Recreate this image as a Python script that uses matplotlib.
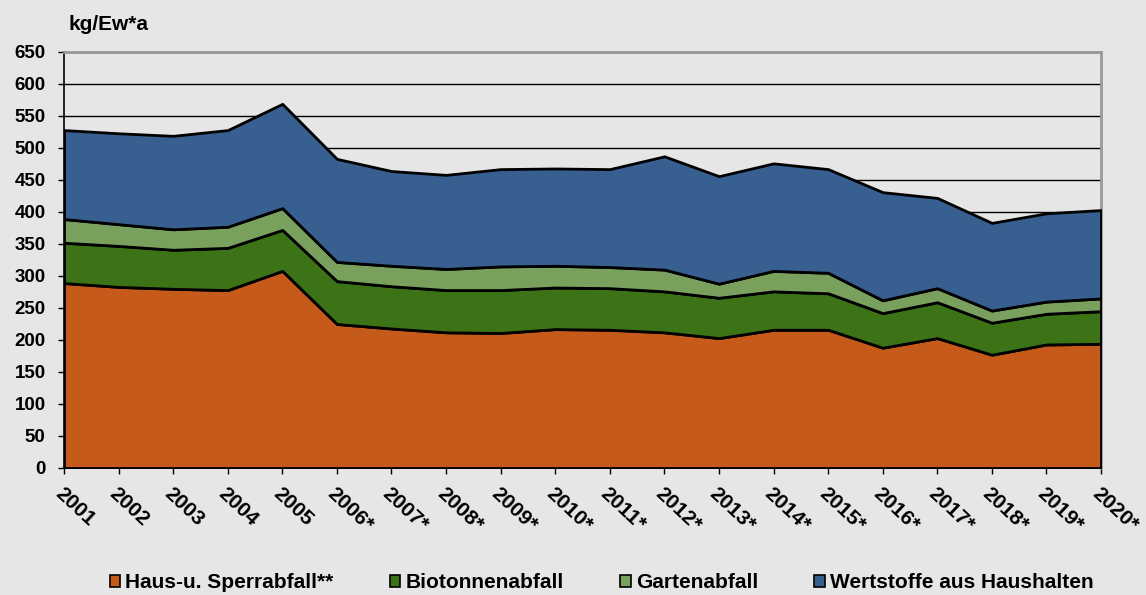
import matplotlib
matplotlib.use("Agg")
import matplotlib.pyplot as plt
from matplotlib.patches import Patch

years = list(range(2001, 2021))
tick_labels = ["2001", "2002", "2003", "2004", "2005", "2006*", "2007*", "2008*", "2009*", "2010*",
               "2011*", "2012*", "2013*", "2014*", "2015*", "2016*", "2017*", "2018*", "2019*", "2020*"]
haus = [289, 283, 280, 278, 308, 225, 218, 212, 211, 217, 216, 212, 203, 216, 216, 188, 203, 177, 193, 194]
bio = [63, 64, 61, 66, 64, 67, 66, 66, 67, 65, 65, 64, 63, 60, 57, 54, 56, 50, 48, 51]
garten = [37, 34, 32, 33, 34, 30, 32, 33, 37, 34, 33, 34, 22, 32, 32, 20, 22, 19, 19, 20]
wert = [139, 142, 146, 151, 163, 161, 148, 147, 152, 152, 153, 177, 168, 168, 162, 169, 141, 137, 138, 138]
series_names = ["Haus-u. Sperrabfall**", "Biotonnenabfall", "Gartenabfall", "Wertstoffe aus Haushalten"]
colors = ["#c55a1b", "#3d7317", "#7aa05e", "#376091"]

plt.rcParams['font.family'] = ['Liberation Sans', 'DejaVu Sans']
bg = "#e6e6e6"
fig = plt.figure(figsize=(11.46, 5.95), dpi=100, facecolor=bg)
ax = fig.add_axes([64/1146, 127/595, 1037/1146, 416/595])
ax.set_facecolor(bg)

ax.stackplot(years, haus, bio, garten, wert, colors=colors, edgecolor="black", linewidth=2.0, zorder=3)

ax.set_xlim(2001, 2020)
ax.set_ylim(0, 650)
ax.set_yticks(range(0, 651, 50))
ax.set_yticklabels([str(v) for v in range(0, 651, 50)], fontsize=13.5, fontweight="bold")
ax.set_xticks(years)
ax.set_xticklabels(tick_labels, fontsize=15, fontweight="bold", rotation=-43,
                   ha="left", va="top", rotation_mode="anchor")
ax.grid(axis="y", color="black", linewidth=1.0, zorder=1)
ax.set_axisbelow(True)
ax.tick_params(axis="both", direction="out", length=4.3, width=1, color="black")
ax.tick_params(axis="x", pad=7)
ax.tick_params(axis="y", pad=9)
for s in ["top", "right"]:
    ax.spines[s].set_color("#999999")
    ax.spines[s].set_linewidth(2)
for s in ["left", "bottom"]:
    ax.spines[s].set_color("black")
    ax.spines[s].set_linewidth(1.2)

fig.text(68/1146, 1 - 25/595, "kg/Ew*a", fontsize=15, fontweight="bold", va="center", ha="left")

handles = [Patch(facecolor=c, edgecolor="black", linewidth=1.2) for c in colors]
fig.legend(handles, series_names, loc="center", bbox_to_anchor=(0.525, 1 - 583/595), ncol=4,
           frameon=False, prop={"weight": "bold", "size": 15}, handlelength=0.5, handleheight=0.5,
           handletextpad=0.25, columnspacing=2.7)

fig.savefig("out.png", dpi=100, facecolor=bg)
